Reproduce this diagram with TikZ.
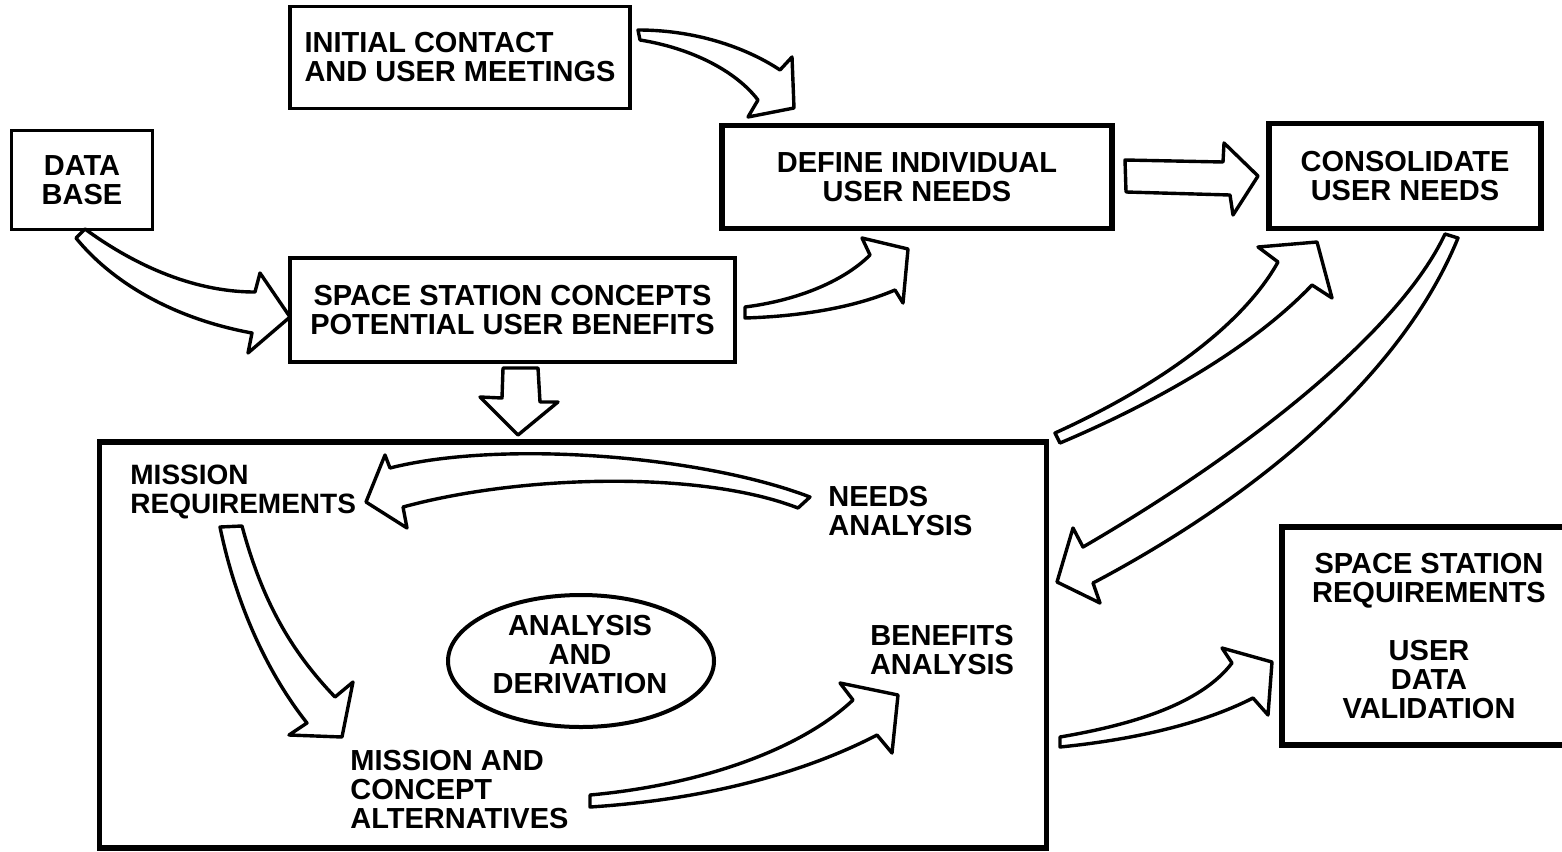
\documentclass[tikz,border=0pt]{standalone}
\usepackage{fontspec}
\setmainfont{Liberation Sans}
\usetikzlibrary{shapes.geometric}
\newcommand{\lblfont}{\bfseries\fontsize{14.5}{14.5}\selectfont}
\newcommand{\lblfontsmall}{\bfseries\fontsize{14}{14.5}\selectfont}
\begin{document}
\begin{tikzpicture}[x=0.5pt,y=-0.5pt,
  thinbox/.style={draw, line width=1.7pt, inner sep=0pt, align=center, font=\lblfont},
  thickbox/.style={draw, line width=2.8pt, inner sep=0pt, align=center, font=\lblfont},
  lbl/.style={inner sep=0pt, font=\lblfont},
  blockarrow/.style={draw, fill=white, line width=1.7pt, line join=round}]
\useasboundingbox (0,0) rectangle (1562,851);

% ---- block arrows ----
% initial contact -> define
\path[blockarrow] (638,30) .. controls (700,30) and (750,50) .. (780,70) -- (792,57) -- (794,108) -- (748,117) -- (758,100) .. controls (735,70) and (690,48) .. (640,40) -- cycle;
% data base -> concepts
\path[blockarrow] (85,229) .. controls (130,262) and (190,292) .. (255,292) -- (260,273) -- (290,317) -- (248,353) -- (252,333) .. controls (170,318) and (110,280) .. (76,238) -- cycle;
% concepts -> define
\path[blockarrow] (745,307) .. controls (800,300) and (845,280) .. (870,255) -- (862,238) -- (908,249) -- (903,303) -- (895,290) .. controls (860,305) and (810,316) .. (745,318) -- cycle;
% define -> consolidate
\path[blockarrow] (1125,160) -- (1223,162) -- (1224,143) -- (1258,176) -- (1233,215) -- (1230,195) -- (1126,192) -- cycle;
% analysis box -> consolidate
\path[blockarrow] (1055,433) .. controls (1150,390) and (1240,330) .. (1278,262) -- (1258,247) -- (1317,242) -- (1332,298) -- (1312,285) .. controls (1250,350) and (1150,405) .. (1060,443) -- cycle;
% consolidate -> analysis box
\path[blockarrow] (1445,234) .. controls (1400,330) and (1250,450) .. (1083,547) -- (1073,528) -- (1057,582) -- (1100,603) -- (1093,583) .. controls (1250,500) and (1400,380) .. (1458,238) -- cycle;
% concepts -> analysis box (down)
\path[blockarrow] (503,368) -- (538,368) -- (540,402) -- (558,402) -- (518,435) -- (480,397) -- (502,398) -- cycle;
% needs analysis -> mission requirements
\path[blockarrow] (810,497) .. controls (700,455) and (500,440) .. (390,468) -- (385,455) -- (366,502) -- (407,528) -- (403,507) .. controls (520,475) and (700,470) .. (798,508) -- cycle;
% mission requirements -> alternatives
\path[blockarrow] (220,527) -- (242,526) .. controls (262,600) and (290,650) .. (335,697) -- (353,682) -- (342,737) -- (289,735) -- (307,723) .. controls (265,670) and (235,600) .. (220,527) -- cycle;
% alternatives -> benefits
\path[blockarrow] (590,795) .. controls (700,785) and (800,750) .. (853,700) -- (840,683) -- (898,695) -- (892,753) -- (877,735) .. controls (800,775) and (700,800) .. (590,807) -- cycle;
% analysis box -> space station requirements
\path[blockarrow] (1060,737) .. controls (1130,725) and (1200,705) .. (1232,663) -- (1222,648) -- (1272,662) -- (1268,715) -- (1253,698) .. controls (1200,725) and (1130,740) .. (1060,747) -- cycle;

% ---- boxes ----
\node[thinbox, align=left, minimum width=170pt, minimum height=51pt] (contact) at (460,57.5) {INITIAL CONTACT\\AND USER MEETINGS};
\node[thinbox, minimum width=70.5pt, minimum height=49.5pt] (database) at (82,180) {DATA\\BASE};
\node[thinbox, minimum width=222.5pt, minimum height=52pt] (concepts) at (512.5,310) {SPACE STATION CONCEPTS\\POTENTIAL USER BENEFITS};
\node[thickbox, minimum width=195pt, minimum height=51.5pt] (define) at (917,177) {DEFINE INDIVIDUAL\\USER NEEDS};
\node[thickbox, minimum width=136pt, minimum height=52.5pt] (consolidate) at (1405,176) {CONSOLIDATE\\USER NEEDS};
\node[thickbox, minimum width=473.5pt, minimum height=203pt] (analysisbox) at (573,645) {};
\node[thickbox, minimum width=147pt, minimum height=109pt] (ssreq) at (1429,636) {SPACE STATION\\REQUIREMENTS\\[14.5pt]USER\\DATA\\VALIDATION};

% ---- inside the analysis box ----
\node[draw, ellipse, line width=2pt, inner sep=0pt, minimum width=133pt, minimum height=66pt] (core) at (581,661) {};
\node[lbl, align=center] (coretext) at (580,655) {ANALYSIS\\AND\\DERIVATION};
\node[lbl, font=\lblfontsmall, align=left, anchor=west] (missreq) at (130,492) {MISSION\\REQUIREMENTS};
\node[lbl, align=left, anchor=west] (needs) at (828,511) {NEEDS\\ANALYSIS};
\node[lbl, align=center] (benefits) at (942,650) {BENEFITS\\ANALYSIS};
\node[lbl, align=left, anchor=west] (alts) at (350,789.5) {MISSION AND\\CONCEPT\\ALTERNATIVES};
\end{tikzpicture}
\end{document}
